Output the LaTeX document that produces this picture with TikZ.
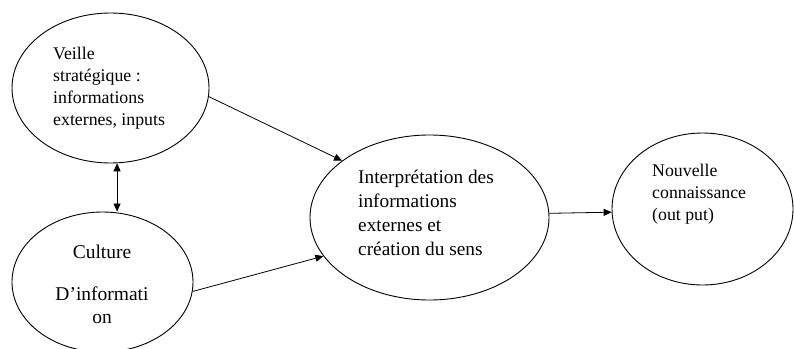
\documentclass[tikz,border=0pt]{standalone}
\usepackage{fontspec}
\setmainfont{Liberation Serif}
\usetikzlibrary{shapes.geometric,arrows.meta}
\begin{document}
\begin{tikzpicture}[x=1pt,y=-1pt,
  bubble/.style={draw, ellipse, line width=0.9pt, inner sep=0pt},
  tip/.style={Triangle[length=8pt,width=7pt]},
  link/.style={line width=0.8pt, -{Triangle[length=8pt,width=7pt]}},
  txt/.style={inner sep=0pt, anchor=north west, align=left}]
\clip (0,0) rectangle (794,348);

% bubbles
\node[bubble, minimum width=197pt, minimum height=150pt] (veille) at (110.5,88) {};
\node[bubble, minimum width=181pt, minimum height=140pt] (culture) at (102.5,282) {};
\node[bubble, minimum width=239pt, minimum height=165pt] (interp) at (429.5,217.5) {};
\node[bubble, minimum width=181pt, minimum height=152pt] (nouv) at (702.5,209) {};

% texts
\node[txt, font=\fontsize{17.8}{22}\selectfont] (veilleText) at (53,46.5)
  {Veille\\stratégique :\\informations\\externes, inputs};
\node[inner sep=0pt, anchor=north, align=center, font=\fontsize{19.5}{23}\selectfont]
  (cultureText) at (102,244.7) {Culture\\[19pt]D’informati\\on};
\node[txt, font=\fontsize{19.3}{24}\selectfont] (interpText) at (358,170)
  {Interprétation des\\informations\\externes et\\création du sens};
\node[txt, font=\fontsize{17.8}{22}\selectfont] (nouvText) at (652,163.8)
  {Nouvelle\\connaissance\\(out put)};

% connectors
\draw[link] (veille.-5.8) -- (interp.147.6);
\draw[link] (culture.-6.9) -- (interp.200.4);
\draw[link] (interp.2) -- (nouv.182.7);
\draw[line width=0.8pt, {Triangle[length=8pt,width=7pt]}-{Triangle[length=8pt,width=7pt]}]
  (veille.-85) -- (veille.-85 |- culture.north);
\end{tikzpicture}
\end{document}
